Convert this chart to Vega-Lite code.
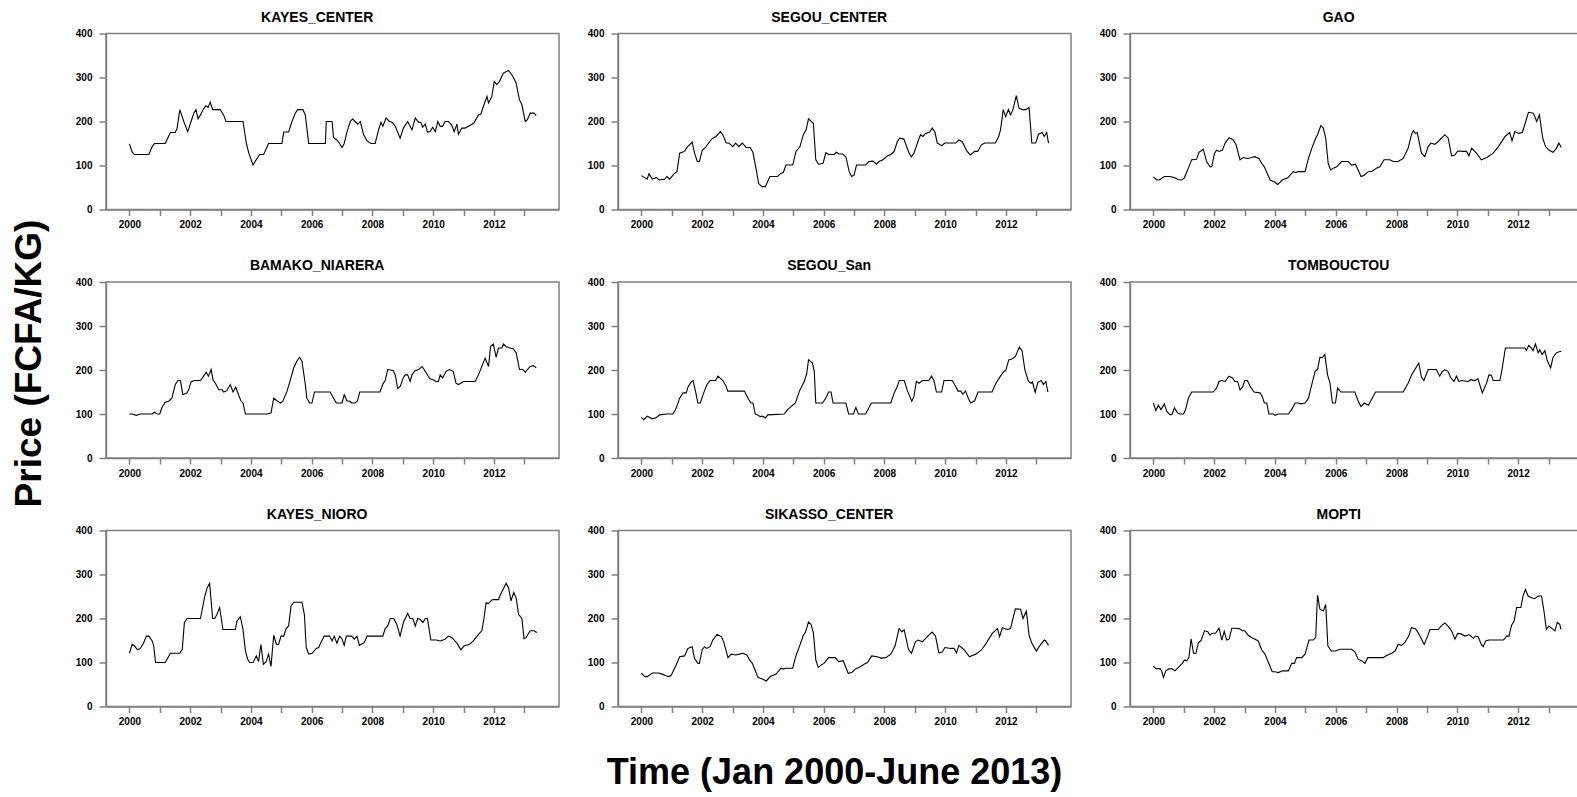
{
"$schema": "https://vega.github.io/schema/vega-lite/v6.json",
"background": "white",
"padding": {"left": 10, "top": 9.5, "right": 0, "bottom": 0},
"title": {"text": "Price (FCFA/KG)", "orient": "left", "anchor": "middle", "fontSize": 37, "offset": 26, "dx": 37},
"columns": 3,
"spacing": {"row": 72.5, "column": 59},
"bounds": "flush",
"resolve": {"scale": {"x": "independent", "y": "independent"}},
"config": {
  "font": "Liberation Sans",
  "view": {"stroke": "#808080", "strokeWidth": 1.5},
  "axis": {"grid": false, "domainColor": "#808080", "domainWidth": 1.5, "tickColor": "#808080", "tickWidth": 1.5, "labelFont": "Liberation Sans", "labelFontWeight": "bold", "labelFontSize": 10, "labelColor": "#000", "titleFont": "Liberation Sans", "titleFontWeight": "bold", "titleColor": "#000", "titleFontSize": 36},
  "axisX": {"tickSize": 6, "labelPadding": 4},
  "axisY": {"tickSize": 7, "labelPadding": 7},
  "title": {"font": "Liberation Sans", "fontSize": 14, "fontWeight": "bold", "color": "#000", "frame": "bounds", "anchor": "middle", "offset": 4},
  "line": {"color": "#000", "strokeWidth": 1.1}
},
"datasets": {
"KAYES_CENTER": [{"t":2000.00,"v":149},{"t":2000.09,"v":131},{"t":2000.16,"v":125},{"t":2000.64,"v":125},{"t":2000.75,"v":143},{"t":2000.83,"v":150},{"t":2001.18,"v":150},{"t":2001.26,"v":162},{"t":2001.35,"v":175},{"t":2001.51,"v":175},{"t":2001.57,"v":185},{"t":2001.66,"v":227},{"t":2001.79,"v":200},{"t":2001.92,"v":177},{"t":2002.03,"v":200},{"t":2002.12,"v":219},{"t":2002.19,"v":227},{"t":2002.26,"v":206},{"t":2002.34,"v":215},{"t":2002.45,"v":230},{"t":2002.52,"v":236},{"t":2002.59,"v":232},{"t":2002.66,"v":244},{"t":2002.74,"v":227},{"t":2002.99,"v":227},{"t":2003.10,"v":215},{"t":2003.18,"v":200},{"t":2003.74,"v":200},{"t":2003.85,"v":150},{"t":2003.93,"v":128},{"t":2004.07,"v":101},{"t":2004.20,"v":116},{"t":2004.29,"v":125},{"t":2004.42,"v":125},{"t":2004.58,"v":150},{"t":2005.02,"v":150},{"t":2005.08,"v":176},{"t":2005.24,"v":176},{"t":2005.35,"v":200},{"t":2005.46,"v":219},{"t":2005.54,"v":227},{"t":2005.71,"v":227},{"t":2005.79,"v":215},{"t":2005.90,"v":150},{"t":2006.45,"v":150},{"t":2006.48,"v":200},{"t":2006.67,"v":200},{"t":2006.72,"v":163},{"t":2006.83,"v":158},{"t":2006.92,"v":150},{"t":2007.00,"v":141},{"t":2007.07,"v":150},{"t":2007.16,"v":176},{"t":2007.27,"v":200},{"t":2007.35,"v":206},{"t":2007.43,"v":200},{"t":2007.52,"v":194},{"t":2007.60,"v":200},{"t":2007.71,"v":170},{"t":2007.82,"v":156},{"t":2007.95,"v":150},{"t":2008.09,"v":150},{"t":2008.20,"v":181},{"t":2008.28,"v":198},{"t":2008.34,"v":189},{"t":2008.45,"v":208},{"t":2008.56,"v":200},{"t":2008.66,"v":198},{"t":2008.75,"v":189},{"t":2008.91,"v":162},{"t":2009.02,"v":185},{"t":2009.16,"v":200},{"t":2009.30,"v":181},{"t":2009.41,"v":208},{"t":2009.52,"v":198},{"t":2009.59,"v":198},{"t":2009.65,"v":187},{"t":2009.74,"v":194},{"t":2009.81,"v":176},{"t":2009.90,"v":177},{"t":2009.98,"v":187},{"t":2010.07,"v":177},{"t":2010.15,"v":200},{"t":2010.23,"v":189},{"t":2010.31,"v":189},{"t":2010.39,"v":200},{"t":2010.50,"v":200},{"t":2010.61,"v":192},{"t":2010.69,"v":177},{"t":2010.78,"v":194},{"t":2010.83,"v":171},{"t":2010.94,"v":185},{"t":2011.05,"v":185},{"t":2011.16,"v":189},{"t":2011.33,"v":196},{"t":2011.49,"v":215},{"t":2011.57,"v":217},{"t":2011.63,"v":230},{"t":2011.77,"v":257},{"t":2011.82,"v":242},{"t":2011.93,"v":257},{"t":2012.01,"v":291},{"t":2012.09,"v":284},{"t":2012.18,"v":291},{"t":2012.31,"v":310},{"t":2012.48,"v":316},{"t":2012.62,"v":303},{"t":2012.73,"v":287},{"t":2012.84,"v":249},{"t":2012.92,"v":238},{"t":2013.03,"v":200},{"t":2013.10,"v":204},{"t":2013.19,"v":219},{"t":2013.32,"v":219},{"t":2013.39,"v":213}],
"SEGOU_CENTER": [{"t":2000.00,"v":77},{"t":2000.19,"v":69},{"t":2000.25,"v":81},{"t":2000.36,"v":69},{"t":2000.49,"v":73},{"t":2000.58,"v":67},{"t":2000.77,"v":69},{"t":2000.84,"v":75},{"t":2000.93,"v":69},{"t":2001.09,"v":82},{"t":2001.17,"v":86},{"t":2001.26,"v":128},{"t":2001.42,"v":132},{"t":2001.50,"v":141},{"t":2001.67,"v":153},{"t":2001.75,"v":128},{"t":2001.84,"v":109},{"t":2001.91,"v":109},{"t":2002.00,"v":134},{"t":2002.11,"v":141},{"t":2002.24,"v":154},{"t":2002.35,"v":162},{"t":2002.46,"v":166},{"t":2002.60,"v":177},{"t":2002.68,"v":170},{"t":2002.79,"v":151},{"t":2002.88,"v":151},{"t":2003.01,"v":143},{"t":2003.10,"v":151},{"t":2003.21,"v":143},{"t":2003.32,"v":151},{"t":2003.45,"v":141},{"t":2003.58,"v":141},{"t":2003.67,"v":130},{"t":2003.77,"v":94},{"t":2003.86,"v":59},{"t":2003.97,"v":52},{"t":2004.08,"v":52},{"t":2004.23,"v":75},{"t":2004.48,"v":75},{"t":2004.59,"v":82},{"t":2004.67,"v":84},{"t":2004.76,"v":101},{"t":2004.98,"v":101},{"t":2005.09,"v":132},{"t":2005.22,"v":143},{"t":2005.33,"v":170},{"t":2005.42,"v":181},{"t":2005.50,"v":206},{"t":2005.66,"v":196},{"t":2005.74,"v":113},{"t":2005.83,"v":103},{"t":2005.98,"v":105},{"t":2006.07,"v":129},{"t":2006.16,"v":125},{"t":2006.35,"v":125},{"t":2006.42,"v":130},{"t":2006.51,"v":126},{"t":2006.62,"v":126},{"t":2006.73,"v":120},{"t":2006.84,"v":86},{"t":2006.92,"v":75},{"t":2007.00,"v":78},{"t":2007.08,"v":101},{"t":2007.38,"v":101},{"t":2007.49,"v":109},{"t":2007.62,"v":110},{"t":2007.74,"v":103},{"t":2007.82,"v":109},{"t":2007.95,"v":113},{"t":2008.10,"v":122},{"t":2008.21,"v":125},{"t":2008.32,"v":132},{"t":2008.42,"v":154},{"t":2008.50,"v":162},{"t":2008.64,"v":160},{"t":2008.81,"v":128},{"t":2008.89,"v":120},{"t":2008.97,"v":128},{"t":2009.14,"v":162},{"t":2009.19,"v":170},{"t":2009.27,"v":166},{"t":2009.35,"v":173},{"t":2009.49,"v":176},{"t":2009.57,"v":185},{"t":2009.66,"v":176},{"t":2009.74,"v":151},{"t":2009.88,"v":145},{"t":2009.99,"v":151},{"t":2010.34,"v":151},{"t":2010.45,"v":158},{"t":2010.56,"v":154},{"t":2010.72,"v":132},{"t":2010.83,"v":124},{"t":2010.97,"v":132},{"t":2011.07,"v":132},{"t":2011.19,"v":147},{"t":2011.30,"v":151},{"t":2011.65,"v":151},{"t":2011.76,"v":166},{"t":2011.82,"v":181},{"t":2011.91,"v":227},{"t":2011.99,"v":211},{"t":2012.08,"v":227},{"t":2012.15,"v":215},{"t":2012.23,"v":227},{"t":2012.34,"v":259},{"t":2012.43,"v":230},{"t":2012.54,"v":227},{"t":2012.65,"v":227},{"t":2012.76,"v":232},{"t":2012.85,"v":151},{"t":2012.98,"v":151},{"t":2013.07,"v":171},{"t":2013.19,"v":175},{"t":2013.26,"v":166},{"t":2013.34,"v":175},{"t":2013.40,"v":151}],
"GAO": [{"t":2000.00,"v":74},{"t":2000.11,"v":67},{"t":2000.19,"v":67},{"t":2000.36,"v":75},{"t":2000.55,"v":75},{"t":2000.71,"v":72},{"t":2000.80,"v":68},{"t":2000.93,"v":67},{"t":2001.02,"v":72},{"t":2001.15,"v":94},{"t":2001.26,"v":113},{"t":2001.42,"v":114},{"t":2001.50,"v":130},{"t":2001.64,"v":137},{"t":2001.75,"v":109},{"t":2001.86,"v":97},{"t":2001.92,"v":97},{"t":2002.01,"v":128},{"t":2002.08,"v":135},{"t":2002.16,"v":132},{"t":2002.27,"v":135},{"t":2002.36,"v":151},{"t":2002.49,"v":163},{"t":2002.63,"v":158},{"t":2002.72,"v":147},{"t":2002.85,"v":113},{"t":2002.96,"v":118},{"t":2003.10,"v":116},{"t":2003.23,"v":118},{"t":2003.34,"v":120},{"t":2003.47,"v":116},{"t":2003.56,"v":105},{"t":2003.65,"v":97},{"t":2003.84,"v":67},{"t":2004.00,"v":62},{"t":2004.09,"v":57},{"t":2004.24,"v":67},{"t":2004.42,"v":72},{"t":2004.60,"v":86},{"t":2004.68,"v":84},{"t":2004.77,"v":86},{"t":2004.99,"v":86},{"t":2005.10,"v":116},{"t":2005.21,"v":139},{"t":2005.34,"v":162},{"t":2005.40,"v":170},{"t":2005.51,"v":191},{"t":2005.59,"v":185},{"t":2005.67,"v":162},{"t":2005.75,"v":105},{"t":2005.83,"v":90},{"t":2005.92,"v":94},{"t":2006.03,"v":97},{"t":2006.19,"v":109},{"t":2006.41,"v":109},{"t":2006.52,"v":101},{"t":2006.65,"v":103},{"t":2006.83,"v":75},{"t":2006.94,"v":78},{"t":2007.07,"v":86},{"t":2007.20,"v":87},{"t":2007.34,"v":94},{"t":2007.45,"v":97},{"t":2007.59,"v":113},{"t":2007.78,"v":113},{"t":2007.89,"v":109},{"t":2008.05,"v":109},{"t":2008.22,"v":116},{"t":2008.38,"v":139},{"t":2008.49,"v":170},{"t":2008.55,"v":179},{"t":2008.62,"v":173},{"t":2008.68,"v":175},{"t":2008.82,"v":128},{"t":2008.93,"v":120},{"t":2009.04,"v":143},{"t":2009.13,"v":151},{"t":2009.26,"v":148},{"t":2009.42,"v":158},{"t":2009.59,"v":170},{"t":2009.70,"v":162},{"t":2009.81,"v":122},{"t":2009.92,"v":124},{"t":2010.01,"v":133},{"t":2010.19,"v":132},{"t":2010.30,"v":132},{"t":2010.38,"v":122},{"t":2010.47,"v":139},{"t":2010.63,"v":128},{"t":2010.79,"v":113},{"t":2010.90,"v":116},{"t":2011.01,"v":120},{"t":2011.18,"v":128},{"t":2011.35,"v":143},{"t":2011.57,"v":166},{"t":2011.72,"v":175},{"t":2011.80,"v":156},{"t":2011.89,"v":177},{"t":2012.02,"v":173},{"t":2012.14,"v":175},{"t":2012.25,"v":200},{"t":2012.34,"v":221},{"t":2012.50,"v":219},{"t":2012.61,"v":200},{"t":2012.70,"v":215},{"t":2012.81,"v":162},{"t":2012.90,"v":143},{"t":2013.01,"v":135},{"t":2013.15,"v":130},{"t":2013.26,"v":139},{"t":2013.34,"v":151},{"t":2013.42,"v":141}],
"BAMAKO_NIARERA": [{"t":2000.00,"v":100},{"t":2000.09,"v":100},{"t":2000.23,"v":97},{"t":2000.36,"v":100},{"t":2000.75,"v":100},{"t":2000.83,"v":104},{"t":2000.91,"v":100},{"t":2001.00,"v":100},{"t":2001.07,"v":114},{"t":2001.18,"v":127},{"t":2001.29,"v":129},{"t":2001.40,"v":136},{"t":2001.51,"v":167},{"t":2001.60,"v":176},{"t":2001.68,"v":176},{"t":2001.76,"v":144},{"t":2001.90,"v":148},{"t":2001.95,"v":155},{"t":2002.03,"v":173},{"t":2002.12,"v":176},{"t":2002.34,"v":176},{"t":2002.47,"v":189},{"t":2002.53,"v":195},{"t":2002.60,"v":186},{"t":2002.69,"v":201},{"t":2002.75,"v":178},{"t":2002.83,"v":170},{"t":2002.94,"v":155},{"t":2003.05,"v":155},{"t":2003.10,"v":150},{"t":2003.21,"v":153},{"t":2003.32,"v":167},{"t":2003.41,"v":150},{"t":2003.50,"v":161},{"t":2003.60,"v":142},{"t":2003.67,"v":130},{"t":2003.74,"v":125},{"t":2003.82,"v":100},{"t":2004.53,"v":100},{"t":2004.66,"v":102},{"t":2004.75,"v":136},{"t":2004.86,"v":130},{"t":2004.97,"v":125},{"t":2005.05,"v":129},{"t":2005.19,"v":152},{"t":2005.30,"v":178},{"t":2005.41,"v":205},{"t":2005.52,"v":221},{"t":2005.60,"v":229},{"t":2005.68,"v":220},{"t":2005.79,"v":167},{"t":2005.84,"v":136},{"t":2005.93,"v":125},{"t":2006.01,"v":125},{"t":2006.09,"v":150},{"t":2006.61,"v":150},{"t":2006.72,"v":136},{"t":2006.81,"v":125},{"t":2007.00,"v":125},{"t":2007.07,"v":144},{"t":2007.16,"v":130},{"t":2007.25,"v":129},{"t":2007.32,"v":125},{"t":2007.43,"v":125},{"t":2007.51,"v":130},{"t":2007.58,"v":150},{"t":2008.25,"v":150},{"t":2008.34,"v":168},{"t":2008.42,"v":176},{"t":2008.50,"v":201},{"t":2008.68,"v":199},{"t":2008.75,"v":189},{"t":2008.83,"v":158},{"t":2008.92,"v":163},{"t":2009.01,"v":182},{"t":2009.08,"v":189},{"t":2009.16,"v":189},{"t":2009.24,"v":174},{"t":2009.30,"v":189},{"t":2009.39,"v":198},{"t":2009.52,"v":201},{"t":2009.63,"v":208},{"t":2009.70,"v":201},{"t":2009.79,"v":191},{"t":2009.89,"v":180},{"t":2010.00,"v":178},{"t":2010.09,"v":174},{"t":2010.17,"v":174},{"t":2010.23,"v":189},{"t":2010.31,"v":182},{"t":2010.42,"v":197},{"t":2010.53,"v":201},{"t":2010.66,"v":197},{"t":2010.75,"v":170},{"t":2010.83,"v":167},{"t":2011.00,"v":174},{"t":2011.38,"v":174},{"t":2011.49,"v":189},{"t":2011.71,"v":227},{"t":2011.82,"v":208},{"t":2011.89,"v":254},{"t":2011.98,"v":259},{"t":2012.07,"v":229},{"t":2012.15,"v":250},{"t":2012.26,"v":250},{"t":2012.31,"v":259},{"t":2012.42,"v":252},{"t":2012.53,"v":250},{"t":2012.64,"v":248},{"t":2012.73,"v":239},{"t":2012.84,"v":201},{"t":2012.95,"v":201},{"t":2013.03,"v":195},{"t":2013.10,"v":201},{"t":2013.19,"v":208},{"t":2013.30,"v":210},{"t":2013.39,"v":205}],
"SEGOU_San": [{"t":2000.00,"v":92},{"t":2000.08,"v":87},{"t":2000.19,"v":95},{"t":2000.36,"v":89},{"t":2000.49,"v":92},{"t":2000.60,"v":98},{"t":2000.82,"v":100},{"t":2001.04,"v":100},{"t":2001.15,"v":114},{"t":2001.26,"v":136},{"t":2001.37,"v":148},{"t":2001.48,"v":148},{"t":2001.53,"v":161},{"t":2001.64,"v":173},{"t":2001.70,"v":176},{"t":2001.78,"v":152},{"t":2001.86,"v":125},{"t":2001.94,"v":125},{"t":2002.05,"v":148},{"t":2002.16,"v":167},{"t":2002.26,"v":176},{"t":2002.44,"v":176},{"t":2002.52,"v":186},{"t":2002.68,"v":176},{"t":2002.79,"v":163},{"t":2002.84,"v":152},{"t":2003.39,"v":152},{"t":2003.53,"v":133},{"t":2003.61,"v":125},{"t":2003.67,"v":125},{"t":2003.75,"v":100},{"t":2003.83,"v":98},{"t":2003.91,"v":94},{"t":2003.99,"v":95},{"t":2004.08,"v":91},{"t":2004.16,"v":98},{"t":2004.70,"v":100},{"t":2004.81,"v":110},{"t":2004.98,"v":120},{"t":2005.07,"v":125},{"t":2005.20,"v":152},{"t":2005.36,"v":174},{"t":2005.44,"v":191},{"t":2005.50,"v":223},{"t":2005.63,"v":216},{"t":2005.69,"v":197},{"t":2005.74,"v":125},{"t":2005.96,"v":125},{"t":2006.07,"v":136},{"t":2006.16,"v":150},{"t":2006.24,"v":150},{"t":2006.31,"v":125},{"t":2006.73,"v":125},{"t":2006.82,"v":100},{"t":2006.98,"v":100},{"t":2007.06,"v":115},{"t":2007.14,"v":100},{"t":2007.38,"v":100},{"t":2007.57,"v":125},{"t":2008.21,"v":125},{"t":2008.32,"v":148},{"t":2008.40,"v":159},{"t":2008.49,"v":176},{"t":2008.65,"v":176},{"t":2008.76,"v":152},{"t":2008.90,"v":129},{"t":2008.97,"v":140},{"t":2009.05,"v":174},{"t":2009.14,"v":170},{"t":2009.25,"v":176},{"t":2009.46,"v":176},{"t":2009.55,"v":186},{"t":2009.63,"v":176},{"t":2009.71,"v":150},{"t":2009.88,"v":150},{"t":2009.96,"v":176},{"t":2010.23,"v":176},{"t":2010.34,"v":163},{"t":2010.42,"v":152},{"t":2010.51,"v":152},{"t":2010.58,"v":145},{"t":2010.67,"v":152},{"t":2010.76,"v":136},{"t":2010.84,"v":125},{"t":2010.97,"v":130},{"t":2011.08,"v":150},{"t":2011.54,"v":150},{"t":2011.67,"v":170},{"t":2011.78,"v":182},{"t":2011.93,"v":197},{"t":2011.99,"v":198},{"t":2012.09,"v":223},{"t":2012.20,"v":225},{"t":2012.31,"v":231},{"t":2012.44,"v":252},{"t":2012.53,"v":244},{"t":2012.62,"v":201},{"t":2012.74,"v":174},{"t":2012.83,"v":170},{"t":2012.87,"v":173},{"t":2012.96,"v":149},{"t":2013.05,"v":172},{"t":2013.16,"v":176},{"t":2013.23,"v":167},{"t":2013.31,"v":174},{"t":2013.38,"v":150}],
"TOMBOUCTOU": [{"t":2000.00,"v":125},{"t":2000.08,"v":108},{"t":2000.16,"v":120},{"t":2000.25,"v":110},{"t":2000.36,"v":123},{"t":2000.44,"v":106},{"t":2000.55,"v":98},{"t":2000.62,"v":100},{"t":2000.69,"v":114},{"t":2000.80,"v":102},{"t":2000.88,"v":100},{"t":2000.99,"v":100},{"t":2001.06,"v":110},{"t":2001.15,"v":136},{"t":2001.26,"v":150},{"t":2001.97,"v":150},{"t":2002.08,"v":159},{"t":2002.16,"v":174},{"t":2002.25,"v":176},{"t":2002.36,"v":174},{"t":2002.49,"v":186},{"t":2002.60,"v":182},{"t":2002.68,"v":174},{"t":2002.77,"v":174},{"t":2002.85,"v":155},{"t":2002.93,"v":161},{"t":2003.01,"v":176},{"t":2003.09,"v":176},{"t":2003.20,"v":161},{"t":2003.31,"v":150},{"t":2003.51,"v":148},{"t":2003.58,"v":140},{"t":2003.65,"v":125},{"t":2003.73,"v":125},{"t":2003.80,"v":100},{"t":2003.95,"v":100},{"t":2004.00,"v":97},{"t":2004.11,"v":100},{"t":2004.44,"v":100},{"t":2004.55,"v":110},{"t":2004.66,"v":125},{"t":2004.77,"v":125},{"t":2004.85,"v":123},{"t":2004.99,"v":125},{"t":2005.10,"v":136},{"t":2005.21,"v":167},{"t":2005.32,"v":197},{"t":2005.40,"v":201},{"t":2005.48,"v":229},{"t":2005.56,"v":228},{"t":2005.64,"v":235},{"t":2005.73,"v":189},{"t":2005.81,"v":170},{"t":2005.89,"v":125},{"t":2005.99,"v":125},{"t":2006.06,"v":159},{"t":2006.17,"v":150},{"t":2006.63,"v":150},{"t":2006.74,"v":129},{"t":2006.83,"v":117},{"t":2006.94,"v":125},{"t":2007.07,"v":120},{"t":2007.20,"v":136},{"t":2007.31,"v":150},{"t":2008.22,"v":150},{"t":2008.38,"v":170},{"t":2008.49,"v":188},{"t":2008.73,"v":216},{"t":2008.82,"v":184},{"t":2008.90,"v":176},{"t":2009.04,"v":201},{"t":2009.31,"v":201},{"t":2009.42,"v":186},{"t":2009.49,"v":195},{"t":2009.58,"v":201},{"t":2009.69,"v":197},{"t":2009.78,"v":183},{"t":2009.89,"v":174},{"t":2009.97,"v":186},{"t":2010.05,"v":174},{"t":2010.14,"v":176},{"t":2010.36,"v":174},{"t":2010.44,"v":178},{"t":2010.58,"v":176},{"t":2010.68,"v":180},{"t":2010.82,"v":148},{"t":2010.96,"v":170},{"t":2011.04,"v":189},{"t":2011.12,"v":188},{"t":2011.18,"v":176},{"t":2011.40,"v":176},{"t":2011.47,"v":201},{"t":2011.58,"v":250},{"t":2012.22,"v":250},{"t":2012.27,"v":244},{"t":2012.35,"v":256},{"t":2012.44,"v":250},{"t":2012.49,"v":244},{"t":2012.57,"v":259},{"t":2012.66,"v":239},{"t":2012.71,"v":246},{"t":2012.79,"v":235},{"t":2012.88,"v":244},{"t":2012.96,"v":221},{"t":2013.07,"v":205},{"t":2013.15,"v":229},{"t":2013.26,"v":239},{"t":2013.37,"v":242},{"t":2013.42,"v":242}],
"KAYES_NIORO": [{"t":2000.00,"v":121},{"t":2000.09,"v":141},{"t":2000.16,"v":138},{"t":2000.27,"v":129},{"t":2000.36,"v":132},{"t":2000.47,"v":145},{"t":2000.56,"v":160},{"t":2000.64,"v":160},{"t":2000.75,"v":149},{"t":2000.80,"v":138},{"t":2000.86,"v":100},{"t":2001.18,"v":100},{"t":2001.35,"v":121},{"t":2001.66,"v":121},{"t":2001.74,"v":130},{"t":2001.81,"v":191},{"t":2001.90,"v":200},{"t":2002.34,"v":200},{"t":2002.47,"v":247},{"t":2002.56,"v":270},{"t":2002.64,"v":280},{"t":2002.74,"v":200},{"t":2002.81,"v":200},{"t":2002.88,"v":209},{"t":2002.97,"v":225},{"t":2003.08,"v":175},{"t":2003.49,"v":175},{"t":2003.54,"v":194},{"t":2003.65,"v":204},{"t":2003.74,"v":175},{"t":2003.82,"v":126},{"t":2003.89,"v":108},{"t":2003.96,"v":100},{"t":2004.07,"v":100},{"t":2004.18,"v":115},{"t":2004.25,"v":102},{"t":2004.33,"v":141},{"t":2004.41,"v":96},{"t":2004.50,"v":102},{"t":2004.58,"v":119},{"t":2004.66,"v":91},{"t":2004.75,"v":162},{"t":2004.84,"v":141},{"t":2004.91,"v":141},{"t":2004.99,"v":160},{"t":2005.08,"v":160},{"t":2005.16,"v":177},{"t":2005.24,"v":183},{"t":2005.32,"v":228},{"t":2005.41,"v":237},{"t":2005.68,"v":237},{"t":2005.76,"v":209},{"t":2005.82,"v":134},{"t":2005.90,"v":119},{"t":2006.01,"v":121},{"t":2006.15,"v":132},{"t":2006.23,"v":134},{"t":2006.30,"v":145},{"t":2006.41,"v":160},{"t":2006.59,"v":160},{"t":2006.67,"v":149},{"t":2006.74,"v":160},{"t":2006.83,"v":144},{"t":2006.92,"v":160},{"t":2007.00,"v":153},{"t":2007.07,"v":139},{"t":2007.14,"v":160},{"t":2007.32,"v":160},{"t":2007.40,"v":153},{"t":2007.49,"v":160},{"t":2007.57,"v":139},{"t":2007.73,"v":145},{"t":2007.82,"v":160},{"t":2008.34,"v":160},{"t":2008.42,"v":177},{"t":2008.50,"v":183},{"t":2008.59,"v":200},{"t":2008.70,"v":200},{"t":2008.80,"v":187},{"t":2008.91,"v":160},{"t":2009.02,"v":191},{"t":2009.16,"v":212},{"t":2009.24,"v":200},{"t":2009.33,"v":200},{"t":2009.41,"v":183},{"t":2009.49,"v":200},{"t":2009.57,"v":198},{"t":2009.66,"v":191},{"t":2009.74,"v":200},{"t":2009.81,"v":200},{"t":2009.92,"v":151},{"t":2010.10,"v":151},{"t":2010.23,"v":149},{"t":2010.39,"v":153},{"t":2010.50,"v":160},{"t":2010.61,"v":157},{"t":2010.78,"v":144},{"t":2010.91,"v":129},{"t":2011.02,"v":138},{"t":2011.19,"v":141},{"t":2011.32,"v":149},{"t":2011.49,"v":164},{"t":2011.60,"v":172},{"t":2011.67,"v":200},{"t":2011.74,"v":236},{"t":2011.81,"v":234},{"t":2011.93,"v":242},{"t":2011.98,"v":243},{"t":2012.15,"v":243},{"t":2012.22,"v":255},{"t":2012.40,"v":280},{"t":2012.48,"v":270},{"t":2012.56,"v":240},{"t":2012.65,"v":259},{"t":2012.73,"v":247},{"t":2012.81,"v":209},{"t":2012.92,"v":200},{"t":2012.99,"v":154},{"t":2013.06,"v":157},{"t":2013.19,"v":172},{"t":2013.32,"v":172},{"t":2013.41,"v":168}],
"SIKASSO_CENTER": [{"t":2000.00,"v":76},{"t":2000.11,"v":68},{"t":2000.19,"v":68},{"t":2000.36,"v":76},{"t":2000.55,"v":76},{"t":2000.71,"v":73},{"t":2000.80,"v":70},{"t":2000.91,"v":68},{"t":2000.98,"v":71},{"t":2001.13,"v":92},{"t":2001.26,"v":113},{"t":2001.42,"v":115},{"t":2001.53,"v":132},{"t":2001.67,"v":136},{"t":2001.75,"v":109},{"t":2001.86,"v":98},{"t":2001.91,"v":98},{"t":2002.00,"v":129},{"t":2002.08,"v":136},{"t":2002.15,"v":132},{"t":2002.26,"v":136},{"t":2002.35,"v":151},{"t":2002.49,"v":164},{"t":2002.63,"v":159},{"t":2002.71,"v":147},{"t":2002.85,"v":111},{"t":2002.96,"v":119},{"t":2003.10,"v":117},{"t":2003.23,"v":119},{"t":2003.34,"v":121},{"t":2003.47,"v":117},{"t":2003.56,"v":106},{"t":2003.65,"v":98},{"t":2003.84,"v":66},{"t":2004.00,"v":62},{"t":2004.11,"v":58},{"t":2004.24,"v":68},{"t":2004.42,"v":73},{"t":2004.60,"v":87},{"t":2004.67,"v":85},{"t":2004.76,"v":87},{"t":2004.98,"v":87},{"t":2005.09,"v":116},{"t":2005.20,"v":136},{"t":2005.33,"v":162},{"t":2005.40,"v":169},{"t":2005.50,"v":192},{"t":2005.58,"v":187},{"t":2005.66,"v":168},{"t":2005.74,"v":106},{"t":2005.82,"v":89},{"t":2005.91,"v":94},{"t":2006.01,"v":98},{"t":2006.16,"v":111},{"t":2006.38,"v":111},{"t":2006.49,"v":102},{"t":2006.64,"v":104},{"t":2006.81,"v":75},{"t":2006.93,"v":78},{"t":2007.06,"v":86},{"t":2007.19,"v":90},{"t":2007.33,"v":96},{"t":2007.44,"v":100},{"t":2007.58,"v":115},{"t":2007.77,"v":113},{"t":2007.88,"v":110},{"t":2008.04,"v":111},{"t":2008.21,"v":119},{"t":2008.35,"v":138},{"t":2008.48,"v":177},{"t":2008.57,"v":170},{"t":2008.65,"v":174},{"t":2008.79,"v":130},{"t":2008.89,"v":121},{"t":2009.02,"v":147},{"t":2009.11,"v":151},{"t":2009.25,"v":147},{"t":2009.41,"v":159},{"t":2009.57,"v":169},{"t":2009.68,"v":160},{"t":2009.79,"v":122},{"t":2009.90,"v":124},{"t":2009.99,"v":134},{"t":2010.18,"v":132},{"t":2010.29,"v":132},{"t":2010.37,"v":122},{"t":2010.45,"v":139},{"t":2010.62,"v":129},{"t":2010.80,"v":113},{"t":2010.89,"v":116},{"t":2011.01,"v":119},{"t":2011.20,"v":129},{"t":2011.35,"v":144},{"t":2011.55,"v":166},{"t":2011.72,"v":177},{"t":2011.79,"v":159},{"t":2011.88,"v":179},{"t":2012.04,"v":175},{"t":2012.15,"v":177},{"t":2012.23,"v":200},{"t":2012.31,"v":222},{"t":2012.48,"v":221},{"t":2012.56,"v":200},{"t":2012.67,"v":217},{"t":2012.76,"v":162},{"t":2012.85,"v":144},{"t":2013.00,"v":126},{"t":2013.09,"v":136},{"t":2013.26,"v":151},{"t":2013.31,"v":149},{"t":2013.40,"v":139}],
"MOPTI": [{"t":2000.00,"v":92},{"t":2000.08,"v":86},{"t":2000.22,"v":86},{"t":2000.27,"v":81},{"t":2000.33,"v":66},{"t":2000.41,"v":81},{"t":2000.49,"v":85},{"t":2000.60,"v":86},{"t":2000.71,"v":81},{"t":2000.82,"v":89},{"t":2000.95,"v":98},{"t":2001.02,"v":106},{"t":2001.10,"v":104},{"t":2001.17,"v":112},{"t":2001.24,"v":154},{"t":2001.32,"v":121},{"t":2001.40,"v":121},{"t":2001.48,"v":145},{"t":2001.57,"v":150},{"t":2001.68,"v":172},{"t":2001.79,"v":170},{"t":2001.86,"v":162},{"t":2001.92,"v":166},{"t":2002.05,"v":167},{"t":2002.16,"v":178},{"t":2002.25,"v":151},{"t":2002.33,"v":171},{"t":2002.41,"v":151},{"t":2002.49,"v":153},{"t":2002.58,"v":178},{"t":2002.69,"v":178},{"t":2002.82,"v":177},{"t":2002.93,"v":172},{"t":2003.01,"v":172},{"t":2003.12,"v":162},{"t":2003.23,"v":157},{"t":2003.34,"v":153},{"t":2003.45,"v":149},{"t":2003.56,"v":129},{"t":2003.67,"v":119},{"t":2003.84,"v":91},{"t":2003.91,"v":79},{"t":2004.00,"v":79},{"t":2004.11,"v":77},{"t":2004.24,"v":81},{"t":2004.44,"v":81},{"t":2004.55,"v":98},{"t":2004.64,"v":98},{"t":2004.71,"v":111},{"t":2004.88,"v":111},{"t":2004.99,"v":119},{"t":2005.12,"v":151},{"t":2005.26,"v":151},{"t":2005.34,"v":157},{"t":2005.40,"v":253},{"t":2005.48,"v":221},{"t":2005.59,"v":217},{"t":2005.67,"v":232},{"t":2005.74,"v":138},{"t":2005.85,"v":126},{"t":2005.99,"v":126},{"t":2006.14,"v":130},{"t":2006.52,"v":130},{"t":2006.63,"v":124},{"t":2006.74,"v":107},{"t":2006.85,"v":104},{"t":2006.96,"v":98},{"t":2007.05,"v":111},{"t":2007.56,"v":111},{"t":2007.67,"v":116},{"t":2007.84,"v":121},{"t":2007.95,"v":126},{"t":2008.05,"v":141},{"t":2008.16,"v":139},{"t":2008.27,"v":145},{"t":2008.40,"v":160},{"t":2008.49,"v":179},{"t":2008.62,"v":177},{"t":2008.71,"v":168},{"t":2008.91,"v":141},{"t":2009.02,"v":160},{"t":2009.10,"v":175},{"t":2009.37,"v":175},{"t":2009.48,"v":184},{"t":2009.59,"v":190},{"t":2009.70,"v":182},{"t":2009.81,"v":172},{"t":2009.92,"v":153},{"t":2010.01,"v":166},{"t":2010.12,"v":165},{"t":2010.25,"v":160},{"t":2010.38,"v":163},{"t":2010.45,"v":160},{"t":2010.52,"v":155},{"t":2010.60,"v":160},{"t":2010.69,"v":158},{"t":2010.79,"v":141},{"t":2010.85,"v":136},{"t":2010.93,"v":149},{"t":2011.04,"v":151},{"t":2011.51,"v":151},{"t":2011.56,"v":154},{"t":2011.62,"v":160},{"t":2011.70,"v":160},{"t":2011.78,"v":184},{"t":2011.87,"v":194},{"t":2011.95,"v":225},{"t":2012.09,"v":225},{"t":2012.16,"v":251},{"t":2012.24,"v":266},{"t":2012.33,"v":251},{"t":2012.44,"v":247},{"t":2012.54,"v":245},{"t":2012.66,"v":251},{"t":2012.77,"v":251},{"t":2012.85,"v":217},{"t":2012.93,"v":175},{"t":2013.01,"v":183},{"t":2013.10,"v":178},{"t":2013.21,"v":172},{"t":2013.29,"v":191},{"t":2013.37,"v":187},{"t":2013.40,"v":177},{"t":2013.42,"v":177}]
},
"concat": [
{"title": "KAYES_CENTER", "data": {"name": "KAYES_CENTER"}, "width": 453, "height": 176, "mark": "line",
 "encoding": {"x": {"field": "t", "type": "quantitative", "title": null, "scale": {"domain": [1999.23, 2014.14], "nice": false, "zero": false}, "axis": {"values": [2000,2001,2002,2003,2004,2005,2006,2007,2008,2009,2010,2011,2012,2013], "format": "d", "labelExpr": "datum.value % 2 == 0 ? datum.label : ''"}},
  "y": {"field": "v", "type": "quantitative", "title": null, "scale": {"domain": [0, 400], "nice": false}, "axis": {"values": [0,100,200,300,400]}}}},
{"title": "SEGOU_CENTER", "data": {"name": "SEGOU_CENTER"}, "width": 453, "height": 176, "mark": "line",
 "encoding": {"x": {"field": "t", "type": "quantitative", "title": null, "scale": {"domain": [1999.23, 2014.14], "nice": false, "zero": false}, "axis": {"values": [2000,2001,2002,2003,2004,2005,2006,2007,2008,2009,2010,2011,2012,2013], "format": "d", "labelExpr": "datum.value % 2 == 0 ? datum.label : ''"}},
  "y": {"field": "v", "type": "quantitative", "title": null, "scale": {"domain": [0, 400], "nice": false}, "axis": {"values": [0,100,200,300,400]}}}},
{"title": "GAO", "data": {"name": "GAO"}, "width": 448, "height": 176, "mark": "line",
 "encoding": {"x": {"field": "t", "type": "quantitative", "title": null, "scale": {"domain": [1999.23, 2013.97], "nice": false, "zero": false}, "axis": {"values": [2000,2001,2002,2003,2004,2005,2006,2007,2008,2009,2010,2011,2012,2013], "format": "d", "labelExpr": "datum.value % 2 == 0 ? datum.label : ''"}},
  "y": {"field": "v", "type": "quantitative", "title": null, "scale": {"domain": [0, 400], "nice": false}, "axis": {"values": [0,100,200,300,400]}}}},
{"title": "BAMAKO_NIARERA", "data": {"name": "BAMAKO_NIARERA"}, "width": 453, "height": 176, "mark": "line",
 "encoding": {"x": {"field": "t", "type": "quantitative", "title": null, "scale": {"domain": [1999.23, 2014.14], "nice": false, "zero": false}, "axis": {"values": [2000,2001,2002,2003,2004,2005,2006,2007,2008,2009,2010,2011,2012,2013], "format": "d", "labelExpr": "datum.value % 2 == 0 ? datum.label : ''"}},
  "y": {"field": "v", "type": "quantitative", "title": null, "scale": {"domain": [0, 400], "nice": false}, "axis": {"values": [0,100,200,300,400]}}}},
{"title": "SEGOU_San", "data": {"name": "SEGOU_San"}, "width": 453, "height": 176, "mark": "line",
 "encoding": {"x": {"field": "t", "type": "quantitative", "title": null, "scale": {"domain": [1999.23, 2014.14], "nice": false, "zero": false}, "axis": {"values": [2000,2001,2002,2003,2004,2005,2006,2007,2008,2009,2010,2011,2012,2013], "format": "d", "labelExpr": "datum.value % 2 == 0 ? datum.label : ''"}},
  "y": {"field": "v", "type": "quantitative", "title": null, "scale": {"domain": [0, 400], "nice": false}, "axis": {"values": [0,100,200,300,400]}}}},
{"title": "TOMBOUCTOU", "data": {"name": "TOMBOUCTOU"}, "width": 448, "height": 176, "mark": "line",
 "encoding": {"x": {"field": "t", "type": "quantitative", "title": null, "scale": {"domain": [1999.23, 2013.97], "nice": false, "zero": false}, "axis": {"values": [2000,2001,2002,2003,2004,2005,2006,2007,2008,2009,2010,2011,2012,2013], "format": "d", "labelExpr": "datum.value % 2 == 0 ? datum.label : ''"}},
  "y": {"field": "v", "type": "quantitative", "title": null, "scale": {"domain": [0, 400], "nice": false}, "axis": {"values": [0,100,200,300,400]}}}},
{"title": "KAYES_NIORO", "data": {"name": "KAYES_NIORO"}, "width": 453, "height": 176, "mark": "line",
 "encoding": {"x": {"field": "t", "type": "quantitative", "title": null, "scale": {"domain": [1999.23, 2014.14], "nice": false, "zero": false}, "axis": {"values": [2000,2001,2002,2003,2004,2005,2006,2007,2008,2009,2010,2011,2012,2013], "format": "d", "labelExpr": "datum.value % 2 == 0 ? datum.label : ''"}},
  "y": {"field": "v", "type": "quantitative", "title": null, "scale": {"domain": [0, 400], "nice": false}, "axis": {"values": [0,100,200,300,400]}}}},
{"title": "SIKASSO_CENTER", "data": {"name": "SIKASSO_CENTER"}, "width": 453, "height": 176, "mark": "line",
 "encoding": {"x": {"field": "t", "type": "quantitative", "title": "Time (Jan 2000-June 2013)", "scale": {"domain": [1999.23, 2014.14], "nice": false, "zero": false}, "axis": {"values": [2000,2001,2002,2003,2004,2005,2006,2007,2008,2009,2010,2011,2012,2013], "format": "d", "labelExpr": "datum.value % 2 == 0 ? datum.label : ''", "titlePadding": 29, "titleX": 216}},
  "y": {"field": "v", "type": "quantitative", "title": null, "scale": {"domain": [0, 400], "nice": false}, "axis": {"values": [0,100,200,300,400]}}}},
{"title": "MOPTI", "data": {"name": "MOPTI"}, "width": 448, "height": 176, "mark": "line",
 "encoding": {"x": {"field": "t", "type": "quantitative", "title": null, "scale": {"domain": [1999.23, 2013.97], "nice": false, "zero": false}, "axis": {"values": [2000,2001,2002,2003,2004,2005,2006,2007,2008,2009,2010,2011,2012,2013], "format": "d", "labelExpr": "datum.value % 2 == 0 ? datum.label : ''"}},
  "y": {"field": "v", "type": "quantitative", "title": null, "scale": {"domain": [0, 400], "nice": false}, "axis": {"values": [0,100,200,300,400]}}}}
]
}
